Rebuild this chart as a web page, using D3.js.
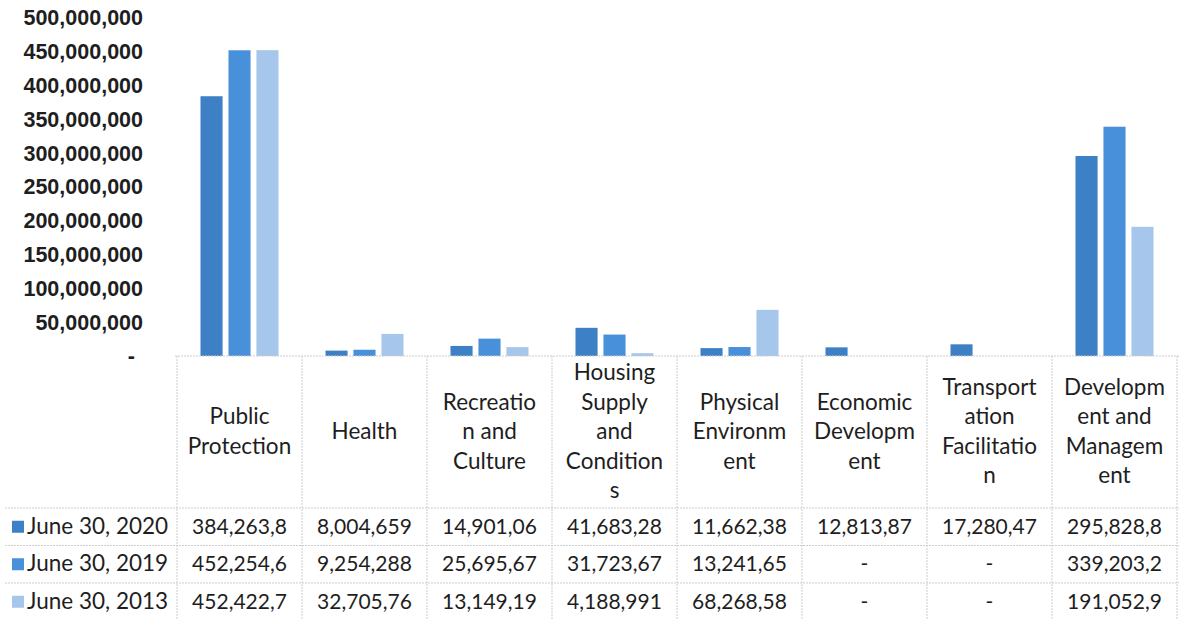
<!DOCTYPE html>
<html>
<head>
<meta charset="utf-8">
<script src="https://cdn.jsdelivr.net/npm/d3@7"></script>
<style>
body{margin:0;background:#fff;}
svg{display:block;font-family:Lato,"Liberation Sans",sans-serif;}
.ylab{font-weight:bold;font-size:21.5px;fill:#1e1e1e;}
.cat{font-size:22.5px;fill:#1e1e1e;}
.cell{font-size:21px;fill:#1e1e1e;}
.leg{font-size:22.5px;fill:#1e1e1e;}
.grid{stroke:#cdcdcd;stroke-width:1;stroke-dasharray:2,1;}
</style>
</head>
<body>
<div id="chart"></div>
<script>
// categories, shown wrapped the way the picture has them
var categories=["Public Protection","Health","Recreation and Culture","Housing Supply and Conditions","Physical Environment","Economic Development","Transportation Facilitation","Development and Management"];
var categoryLines=[["Public","Protection"],["Health"],["Recreatio","n and","Culture"],["Housing","Supply","and","Condition","s"],["Physical","Environm","ent"],["Economic","Developm","ent"],["Transport","ation","Facilitatio","n"],["Developm","ent and","Managem","ent"]];

var seriesNames=["June 30, 2020","June 30, 2019","June 30, 2013"];
var seriesColors=["#3d80c6","#4890da","#a7c6eb"];

var values2020=[384263800,8004659,14901060,41683280,11662380,12813870,17280470,295828800];
var values2019=[452254600,9254288,25695670,31723670,13241650,null,null,339203200];
var values2013=[452422700,32705760,13149190,4188991,68268580,null,null,191052900];

var yTicks=[0,50000000,100000000,150000000,200000000,250000000,300000000,350000000,400000000,450000000,500000000];

(function(){
	var width=1179,height=619;
	var plotLeft=177,plotRight=1177,plotTop=18,plotBottom=356;
	var headerBottom=508,rowh=37.5;
	var lineh=29.5;

	var allValues=[values2020,values2019,values2013];

	var svg=d3.select("#chart").append("svg")
		.attr("width",width)
		.attr("height",height);
	svg.append("rect").attr("width",width).attr("height",height).attr("fill","#fff");

	var x0=d3.scaleBand().domain(categories).range([plotLeft,plotRight]).paddingInner(0).paddingOuter(0);
	var x1=d3.scaleBand().domain(seriesNames).range([0,x0.bandwidth()]).paddingInner(0.21).paddingOuter(0.84);
	var y=d3.scaleLinear().domain([0,500000000]).range([plotBottom,plotTop]);

	// y axis labels, no line, "-" for zero
	var fmt=d3.format(",");
	var yAxis=d3.axisLeft(y).tickValues(yTicks).tickSize(0).tickPadding(0)
		.tickFormat(function(d){return d===0?"-":fmt(d);});
	var ag=svg.append("g").attr("transform","translate(143,0)").call(yAxis);
	ag.select(".domain").remove();
	ag.selectAll("text").attr("class","ylab").attr("font-family",null).attr("font-size",null)
		.attr("fill",null)
		.attr("dx",function(d){return d===0?-8:0;});

	// bars
	var groups=svg.append("g").selectAll("g")
		.data(allValues)
		.enter()
		.append("g")
		.attr("fill",function(d,i){return seriesColors[i];});
	groups.selectAll("rect")
		.data(function(d,i){return d.map(function(v,j){return {v:v,s:i,c:j};});})
		.enter()
		.filter(function(d){return d.v!=null;})
		.append("rect")
		.attr("x",function(d){return x0(categories[d.c])+x1(seriesNames[d.s]);})
		.attr("y",function(d){return y(d.v);})
		.attr("width",x1.bandwidth())
		.attr("height",function(d){return plotBottom-y(d.v);});

	// axis line / table top
	svg.append("line").attr("class","grid")
		.attr("x1",plotLeft-2).attr("x2",width).attr("y1",plotBottom).attr("y2",plotBottom);

	// table verticals
	var borders=categories.map(function(c){return x0(c);}).concat([plotRight]);
	svg.append("g").selectAll("line")
		.data(borders)
		.enter()
		.append("line")
		.attr("class","grid")
		.attr("x1",function(d){return d;}).attr("x2",function(d){return d;})
		.attr("y1",plotBottom).attr("y2",height);

	// row lines
	svg.append("g").selectAll("line")
		.data(seriesNames)
		.enter()
		.append("line")
		.attr("class","grid")
		.attr("x1",5).attr("x2",width)
		.attr("y1",function(d,i){return headerBottom+i*rowh;})
		.attr("y2",function(d,i){return headerBottom+i*rowh;});

	// category header text
	var headerMid=(plotBottom+headerBottom)/2;
	var cats=svg.append("g").selectAll("text")
		.data(categoryLines)
		.enter()
		.append("text")
		.attr("class","cat")
		.attr("text-anchor","middle")
		.attr("x",function(d,i){return x0(categories[i])+x0.bandwidth()/2;});
	cats.selectAll("tspan")
		.data(function(d){return d.map(function(t,k){return {t:t,k:k,n:d.length};});})
		.enter()
		.append("tspan")
		.attr("x",function(){return d3.select(this.parentNode).attr("x");})
		.attr("y",function(d){return headerMid+(d.k-(d.n-1)/2)*lineh+7;})
		.text(function(d){return d.t;});

	// legend column
	var rows=svg.append("g").selectAll("g")
		.data(seriesNames)
		.enter()
		.append("g")
		.attr("transform",function(d,i){return "translate(0,"+(headerBottom+i*rowh+rowh/2)+")";});
	rows.append("rect")
		.attr("x",12).attr("y",-6).attr("width",12).attr("height",12)
		.attr("fill",function(d,i){return seriesColors[i];});
	rows.append("text")
		.attr("class","leg")
		.attr("x",27).attr("y",7)
		.text(function(d){return d;});

	// table values, cut the way the cells cut them
	rows.selectAll(".val")
		.data(function(d,i){return allValues[i];})
		.enter()
		.append("text")
		.attr("class","cell val")
		.attr("text-anchor","middle")
		.attr("x",function(d,j){return x0(categories[j])+x0.bandwidth()/2;})
		.attr("y",7)
		.text(function(d){return d==null?"-":fmt(d).slice(0,9);});
})();
</script>
</body>
</html>
